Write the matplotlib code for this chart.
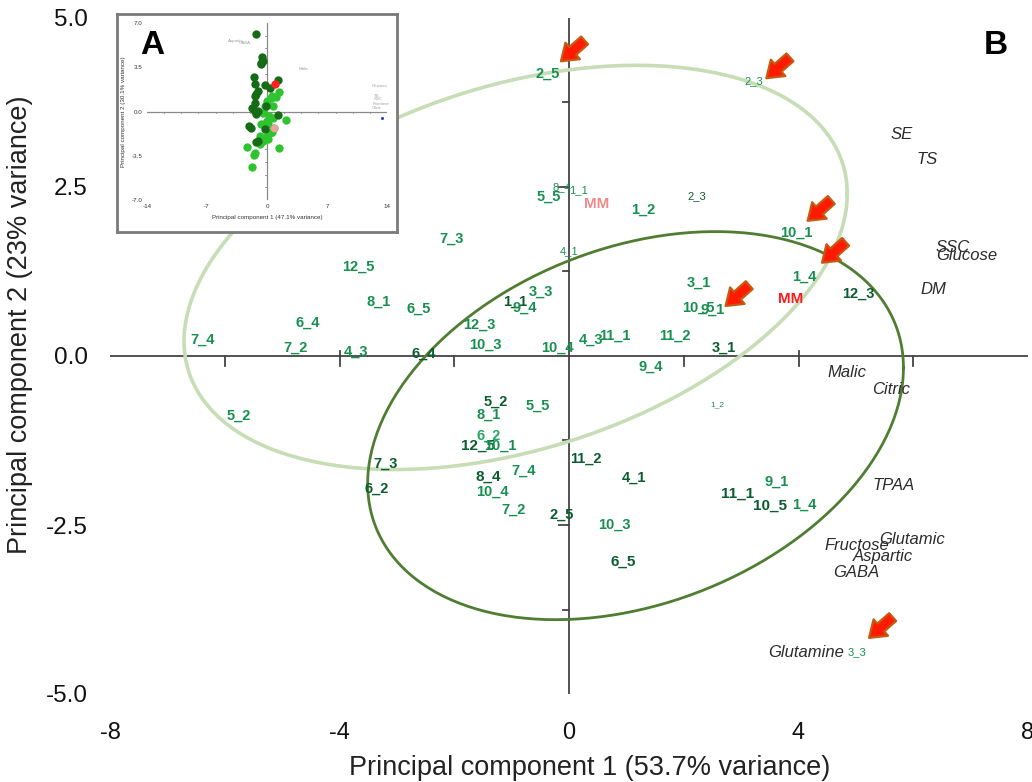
import numpy as np
import matplotlib
matplotlib.use("Agg")
import matplotlib.pyplot as plt

plt.rcParams['font.family'] = ['Liberation Sans', 'DejaVu Sans']
plt.rcParams['axes.unicode_minus'] = False

# ---- main PCA (panel B): sample scores ----
sample_names = ["2_5", "2_3", "5_5", "8_4", "1_1", "1_2", "2_3", "7_3", "12_5", "4_1",
                "10_1", "1_4", "12_3", "3_1", "10_5", "9_1", "8_1", "6_5", "6_4", "7_4",
                "7_2", "4_3", "6_4", "1_1", "9_4", "3_3", "12_3", "10_3", "10_4", "4_3",
                "11_1", "11_2", "3_1", "9_4", "5_2", "1_2",
                "5_2", "5_5", "8_1", "6_2", "12_5", "10_1", "7_3", "6_2", "8_4", "7_4",
                "10_4", "7_2", "2_5", "11_2", "4_1", "10_3", "6_5", "11_1", "9_1", "10_5",
                "1_4", "3_3"]
sample_x = [-0.37, 3.22, -0.35, -0.12, 0.17, 1.29, 2.22, -2.05, -3.67, 0.0,
            3.97, 4.11, 5.05, 2.27, 2.25, 2.50, -3.32, -2.62, -4.55, -6.38,
            -4.76, -3.71, -2.53, -0.93, -0.77, -0.49, -1.56, -1.45, -0.21, 0.38,
            0.79, 1.84, 2.69, 1.43, -5.75, 2.59,
            -1.28, -0.54, -1.40, -1.40, -1.58, -1.20, -3.20, -3.36, -1.40, -0.79,
            -1.33, -0.96, -0.12, 0.30, 1.14, 0.79, 0.94, 2.94, 3.62, 3.50,
            4.11, 5.02]
sample_y = [4.17, 4.07, 2.35, 2.50, 2.46, 2.17, 2.37, 1.73, 1.32, 1.55,
            1.82, 1.17, 0.92, 1.08, 0.72, 0.69, 0.81, 0.70, 0.49, 0.24,
            0.12, 0.07, 0.04, 0.81, 0.71, 0.95, 0.46, 0.16, 0.12, 0.24,
            0.30, 0.30, 0.12, -0.16, -0.89, -0.72,
            -0.67, -0.74, -0.87, -1.18, -1.33, -1.33, -1.60, -1.97, -1.79, -1.69,
            -2.01, -2.28, -2.35, -1.52, -1.80, -2.49, -3.05, -2.03, -1.86, -2.22,
            -2.20, -4.38]
# colour tone of each label (m = medium green, d = dark green, l = light green)
sample_tone = ["m", "m", "m", "m", "m", "m", "d", "m", "m", "m",
               "m", "m", "d", "m", "m", "m", "m", "m", "m", "m",
               "m", "m", "d", "d", "m", "m", "m", "m", "m", "m",
               "m", "m", "d", "m", "m", "m",
               "d", "m", "m", "l", "d", "m", "d", "d", "d", "m",
               "m", "m", "d", "d", "d", "m", "d", "d", "m", "d",
               "m", "m"]
# label size class
sample_size = ["n", "s", "n", "s", "s", "n", "s", "n", "n", "s",
               "n", "n", "n", "n", "n", "n", "n", "n", "n", "n",
               "n", "n", "n", "n", "n", "n", "n", "n", "n", "n",
               "n", "n", "n", "n", "n", "xs",
               "n", "n", "n", "n", "b", "n", "n", "n", "b", "n",
               "n", "n", "n", "n", "n", "n", "b", "b", "n", "b",
               "n", "s"]

mm_x = [0.49, 3.86]
mm_y = [2.25, 0.84]
mm_colors = ["#f08a8a", "#ff1a1a"]

# variable loadings (italic labels)
var_names = ["SE", "TS", "SSC", "Glucose", "DM", "Malic", "Citric", "TPAA",
             "Glutamic", "Fructose", "Aspartic", "GABA", "Glutamine"]
var_x = [5.80, 6.24, 6.68, 6.94, 6.36, 4.84, 5.61, 5.66, 5.98, 5.02, 5.47, 5.00, 4.14]
var_y = [3.28, 2.90, 1.61, 1.49, 0.98, -0.24, -0.50, -1.92, -2.72, -2.81, -2.96, -3.21, -4.38]

# confidence ellipses: centre and covariance (data units)
ell_light_center = (-0.93, 1.31)
ell_light_cov = [[33.4, 6.3], [6.3, 8.94]]
ell_dark_center = (1.16, -1.03)
ell_dark_cov = [[21.8, 4.0], [4.0, 8.24]]

# arrow targets
arrow_x = [-0.14, 3.44, 4.16, 4.41, 2.73, 5.23]
arrow_y = [4.36, 4.11, 2.00, 1.38, 0.74, -4.17]

# ---- inset PCA (panel A) ----
inset_dark_x = [-1.25, -0.55, -0.47, -0.66, -0.75, -1.56, -1.40, -1.10, -1.25, -1.40,
                -0.23, 0.40, 1.30, -1.40, -1.70, -1.56, -1.30, -1.10, -0.08, 1.33,
                -2.10, -1.90, -0.23, -1.10, -1.25]
inset_dark_y = [6.10, 4.30, 4.00, 3.80, 3.75, 2.70, 2.20, 1.65, 1.40, 1.25,
                2.10, 1.86, 2.50, 0.70, 0.30, 0.10, -0.16, 0.05, 0.45, -0.27,
                -1.14, -1.27, -1.40, -2.30, -2.40]
inset_light_x = [1.40, 0.55, 0.47, 0.00, 1.00, -0.23, 0.70, -0.47, 0.23, 0.70,
                 0.00, 2.26, -0.70, -0.39, 0.16, 0.78, 0.55, 0.31, -0.08, -0.78,
                 0.08, -0.47, -0.78, -2.34, 1.40, -1.40, -1.48, -1.70]
inset_light_y = [1.54, 1.25, 1.06, 0.85, 1.17, 0.45, 0.45, -0.08, -0.35, -0.53,
                 -0.74, -0.70, -0.95, -1.00, -1.00, -1.33, -1.60, -1.67, -2.02, -1.94,
                 -2.20, -2.33, -2.60, -2.80, -2.86, -3.26, -3.45, -4.40]
inset_red = (0.94, 2.17)
inset_pink = (0.86, -1.27)
inset_blue = (13.4, -0.53)
inset_var_names = ["Aspartic", "GABA", "Malic", "Glucose", "TS", "SSC", "Fructose", "Citric"]
inset_var_x = [-3.6, -2.6, 4.3, 13.1, 12.8, 13.0, 13.3, 12.8]
inset_var_y = [5.6, 5.4, 3.4, 2.0, 1.25, 1.0, 0.6, 0.3]

tone_colors = {"m": "#17904f", "d": "#0b5c2e", "l": "#25a865"}
size_map = {"xs": (6, "normal"), "s": (8, "normal"), "n": (10.5, "bold"), "b": (11, "bold")}


def ellipse_curve(center, cov, n=300):
    t = np.linspace(0, 2 * np.pi, n)
    L = np.linalg.cholesky(np.array(cov))
    pts = L @ np.vstack([np.cos(t), np.sin(t)])
    return pts[0] + center[0], pts[1] + center[1]


fig = plt.figure(figsize=(10.32, 7.82), dpi=100)
ax = fig.add_axes([110 / 1032, 1 - 694 / 782, 918 / 1032, 676 / 782])
ax.set_xlim(-8, 8)
ax.set_ylim(-5, 5)
for s in ax.spines.values():
    s.set_visible(False)
ax.set_xticks([-8, -4, 0, 4, 8])
ax.set_yticks([-5, -2.5, 0, 2.5, 5])
ax.set_yticklabels(["-5.0", "-2.5", "0.0", "2.5", "5.0"])
ax.tick_params(axis="x", length=0, pad=20, labelsize=17, labelcolor="#111111")
ax.tick_params(axis="y", length=0, pad=16, labelsize=17.5, labelcolor="#111111")
fig.text(590 / 1032, 1 - 768 / 782, "Principal component 1 (53.7% variance)",
         fontsize=19.5, color="#222222", ha="center", va="center")
fig.text(20 / 1032, 1 - 325 / 782, "Principal component 2 (23% variance)",
         fontsize=19.5, color="#222222", ha="center", va="center", rotation=90)

# axes through the origin
axis_col = "#444444"
ax.axhline(0, color=axis_col, lw=1.3, zorder=1)
ax.axvline(0, color=axis_col, lw=1.3, zorder=1)
for xt in np.arange(-6, 7, 2):
    if xt == 0:
        continue
    top = 0.08 if abs(xt) == 4 else 0
    ax.plot([xt, xt], [top, -0.15], color=axis_col, lw=1.3, zorder=1)
for yt in np.arange(-3.75, 5, 1.25):
    if abs(yt) < 1e-9:
        continue
    ln = 0.17 if abs(yt % 2.5) < 1e-9 else 0.1
    ax.plot([-ln, 0], [yt, yt], color=axis_col, lw=1.3, zorder=1)

# ellipses
ex, ey = ellipse_curve(ell_light_center, ell_light_cov)
ax.plot(ex, ey, color="#c6ddb6", lw=2.6, zorder=2)
ex, ey = ellipse_curve(ell_dark_center, ell_dark_cov)
ax.plot(ex, ey, color="#4f7d31", lw=2.0, zorder=2)

# sample labels
for name, x, y, tone, sz in zip(sample_names, sample_x, sample_y, sample_tone, sample_size):
    fs, fw = size_map[sz]
    ax.text(x, y, name, color=tone_colors[tone], fontsize=fs, fontweight=fw,
            ha="center", va="center", zorder=4)

for x, y, c in zip(mm_x, mm_y, mm_colors):
    ax.text(x, y, "MM", color=c, fontsize=11, fontweight="bold", ha="center", va="center", zorder=4)

for name, x, y in zip(var_names, var_x, var_y):
    ax.text(x, y, name, color="#2b2b2b", fontsize=12, style="italic",
            ha="center", va="center", zorder=4)

# arrows
for x, y in zip(arrow_x, arrow_y):
    ax.annotate("", xy=(x, y), xytext=(17, 15), textcoords="offset points",
                arrowprops=dict(arrowstyle="simple,head_width=1.05,head_length=0.75,tail_width=0.5",
                                mutation_scale=15, fc="#ff1a00", ec="#c55a11", lw=1.6,
                                shrinkA=0, shrinkB=0), zorder=5)

fig.text(996 / 1032, 1 - 46 / 782, "B", fontsize=24, fontweight="bold", ha="center", va="center")

# ---- inset ----
frame = fig.add_axes([117 / 1032, 1 - 232 / 782, 280 / 1032, 218 / 782])
frame.set_xticks([])
frame.set_yticks([])
frame.set_facecolor("white")
for s in frame.spines.values():
    s.set_color("#7a7a7a")
    s.set_linewidth(2)
frame.set_zorder(5)

ins = fig.add_axes([147 / 1032, 1 - 200 / 782, 240 / 1032, 177 / 782])
ins.set_zorder(6)
ins.patch.set_alpha(0)
ins.set_xlim(-14, 14)
ins.set_ylim(-7, 7)
for s in ins.spines.values():
    s.set_visible(False)
ins.set_xticks([-14, -7, 0, 7, 14])
ins.set_yticks([-7, -3.5, 0, 3.5, 7])
ins.set_yticklabels(["-7.0", "-3.5", "0.0", "3.5", "7.0"])
ins.tick_params(length=0, labelsize=4.5, pad=3, labelcolor="#333333")
ins.set_xlabel("Principal component 1 (47.1% variance)", fontsize=4.5, labelpad=4, color="#333333")
ins.set_ylabel("Principal component 2 (30.1% variance)", fontsize=4.5, labelpad=4, color="#333333")
ins.axhline(0, color="#8a8a8a", lw=0.9, zorder=1)
ins.axvline(0, color="#8a8a8a", lw=0.9, zorder=1)
for xt in np.arange(-12, 13, 2):
    ins.plot([xt, xt], [0, -0.12], color="#8a8a8a", lw=0.6, zorder=1)
for yt in np.arange(-6, 7, 1):
    ins.plot([-0.25, 0], [yt, yt], color="#8a8a8a", lw=0.6, zorder=1)
ins.scatter(inset_light_x, inset_light_y, s=36, color="#2fc42f", linewidths=0, zorder=3)
ins.scatter(inset_dark_x, inset_dark_y, s=36, color="#166b16", linewidths=0, zorder=3)
ins.scatter([inset_red[0]], [inset_red[1]], s=36, color="#ff2020", linewidths=0, zorder=4)
ins.scatter([inset_pink[0]], [inset_pink[1]], s=30, color="#f5a0a0", linewidths=0, zorder=4)
ins.scatter([inset_blue[0]], [inset_blue[1]], s=5, color="#1f4fc0", linewidths=0, zorder=4)
for name, x, y in zip(inset_var_names, inset_var_x, inset_var_y):
    ins.text(x, y, name, fontsize=3.2, color="#a0a0a0", ha="center", va="center")
fig.text(152 / 1032, 1 - 46 / 782, "A", fontsize=24, fontweight="bold", ha="center", va="center",
         zorder=10)

fig.savefig("out.png", dpi=100)
